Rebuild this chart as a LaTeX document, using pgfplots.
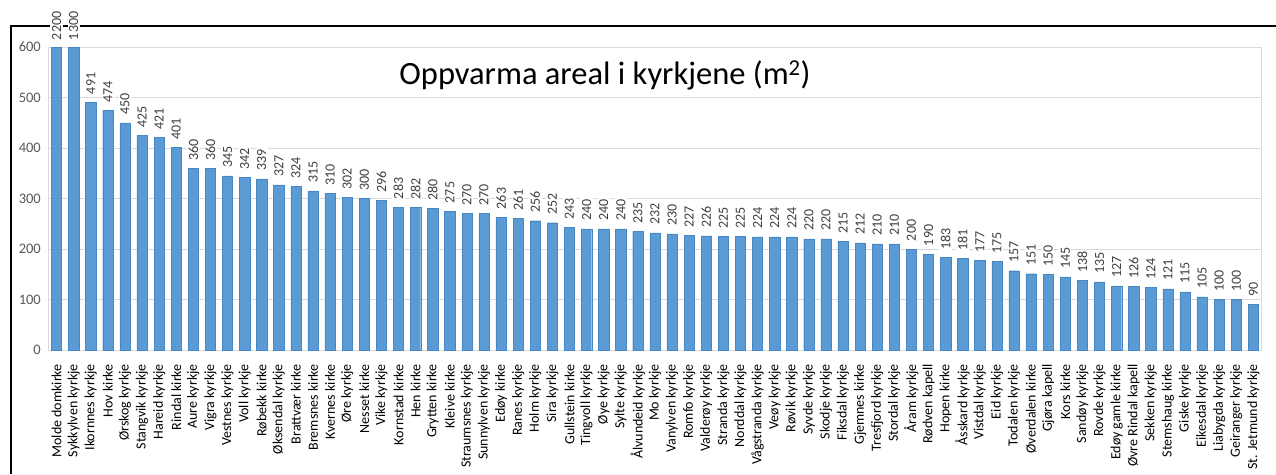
\documentclass[border=0pt]{standalone}
\usepackage{pgfplots}
\usepackage{pgfplotstable}
\pgfplotsset{compat=1.18}
\usepackage{fontspec}
\setmainfont{Carlito}
\definecolor{barblue}{HTML}{5B9BD5}
\definecolor{baredge}{HTML}{4A86C0}
\definecolor{gridgray}{HTML}{D9D9D9}
\definecolor{ticktext}{HTML}{595959}
\definecolor{valtext}{HTML}{404040}

\pgfplotstableread{
x y v
0 600 2200
1 600 1300
}\dataA
\pgfplotstableread{
x y v
2 491 491
3 474 474
4 450 450
5 425 425
6 421 421
7 401 401
8 360 360
9 360 360
10 345 345
11 342 342
12 339 339
13 327 327
14 324 324
15 315 315
16 310 310
17 302 302
18 300 300
19 296 296
20 283 283
21 282 282
22 280 280
23 275 275
24 270 270
25 270 270
26 263 263
27 261 261
28 256 256
29 252 252
30 243 243
31 240 240
32 240 240
33 240 240
34 235 235
35 232 232
36 230 230
37 227 227
38 226 226
39 225 225
40 225 225
41 224 224
42 224 224
43 224 224
44 220 220
45 220 220
46 215 215
47 212 212
48 210 210
49 210 210
50 200 200
51 190 190
52 183 183
53 181 181
54 177 177
55 175 175
56 157 157
57 151 151
58 150 150
59 145 145
60 138 138
61 135 135
62 127 127
63 126 126
64 124 124
65 121 121
66 115 115
67 105 105
68 100 100
69 100 100
70 90 90
}\dataB

\begin{document}
\begin{tikzpicture}[x=1pt,y=1pt]
\path[use as bounding box] (0,0) rectangle (1276,474);
\draw[line width=2pt,black] (11,0) -- (11,448) -- (1276,448);
\begin{axis}[
  at={(48pt,124pt)}, anchor=south west,
  scale only axis, width=1214pt, height=303pt,
  xmin=-0.5, xmax=70.5, ymin=0, ymax=600,
  ytick={0,100,...,600},
  xtick={0,...,70},
  xticklabels={Molde domkirke,Sykkylven kyrkje,Ikornnes kyrkje,Hov kirke,Ørskog kyrkje,Stangvik kyrkje,Hareid kyrkje,Rindal kirke,Aure kyrkje,Vigra kyrkje,Vestnes kyrkje,Voll kyrkje,Røbekk kirke,Øksendal kyrkje,Brattvær kirke,Bremsnes kirke,Kvernes kirke,Øre kyrkje,Nesset kirke,Vike kyrkje,Kornstad kirke,Hen kirke,Grytten kirke,Kleive kirke,Straumsnes kyrkje,Sunnylven kyrkje,Edøy kirke,Ranes kyrkje,Holm kyrkje,Sira kyrkje,Gullstein kirke,Tingvoll kyrkje,Øye kyrkje,Sylte kyrkje,Ålvundeid kyrkje,Mo kyrkje,Vanylven kyrkje,Romfo kyrkje,Valderøy kyrkje,Stranda kyrkje,Norddal kyrkje,Vågstranda kyrkje,Veøy kyrkje,Røvik kyrkje,Syvde kyrkje,Skodje kyrkje,Fiksdal kyrkje,Gjemnes kirke,Tresfjord kyrkje,Stordal kyrkje,Åram kyrkje,Rødven kapell,Hopen kirke,Åsskard kyrkje,Vistdal kyrkje,Eid kyrkje,Todalen kyrkje,Øverdalen kirke,Gjøra kapell,Kors kirke,Sandøy kyrkje,Rovde kyrkje,Edøy gamle kirke,Øvre Rindal kapell,Sekken kyrkje,Stemshaug kirke,Giske kyrkje,Eikesdal kyrkje,Liabygda kyrkje,Geiranger kyrkje,St. Jetmund kyrkje},
  x tick label style={rotate=90, anchor=east, font=\fontsize{14}{16}\selectfont, text=black, inner sep=0pt},
  xticklabel shift=14pt,
  y tick label style={font=\fontsize{14.5}{16}\selectfont, text=ticktext, inner sep=0pt},
  yticklabel shift=7pt,
  /pgf/number format/assume math mode=true,
  major tick length=0pt,
  tick style={draw=none},
  axis line style={draw=gridgray, line width=1pt},
  ymajorgrids, grid style={draw=gridgray, line width=1pt},
  clip=false,
  axis on top=false,
]
\addplot[ybar, bar width=0.6, fill=barblue, draw=baredge, line width=0.4pt,
  point meta=explicit symbolic,
  nodes near coords,
  every node near coord/.append style={rotate=90, anchor=west, font=\fontsize{14}{16}\selectfont, text=valtext, fill=white, inner sep=1.5pt, outer xsep=5.5pt}
] table[x=x, y=y, meta=v] {\dataA};
\addplot[ybar, bar width=0.6, fill=barblue, draw=baredge, line width=0.4pt,
  point meta=explicit symbolic,
  nodes near coords,
  every node near coord/.append style={rotate=90, anchor=west, font=\fontsize{14}{16}\selectfont, text=valtext, fill=white, inner sep=1.5pt, outer xsep=6.5pt}
] table[x=x, y=y, meta=v] {\dataB};
\end{axis}
\node[font=\fontsize{32.5}{38}\selectfont, text=black] at (605,399) {Oppvarma areal i kyrkjene (m\textsuperscript{2})};
\end{tikzpicture}
\end{document}
